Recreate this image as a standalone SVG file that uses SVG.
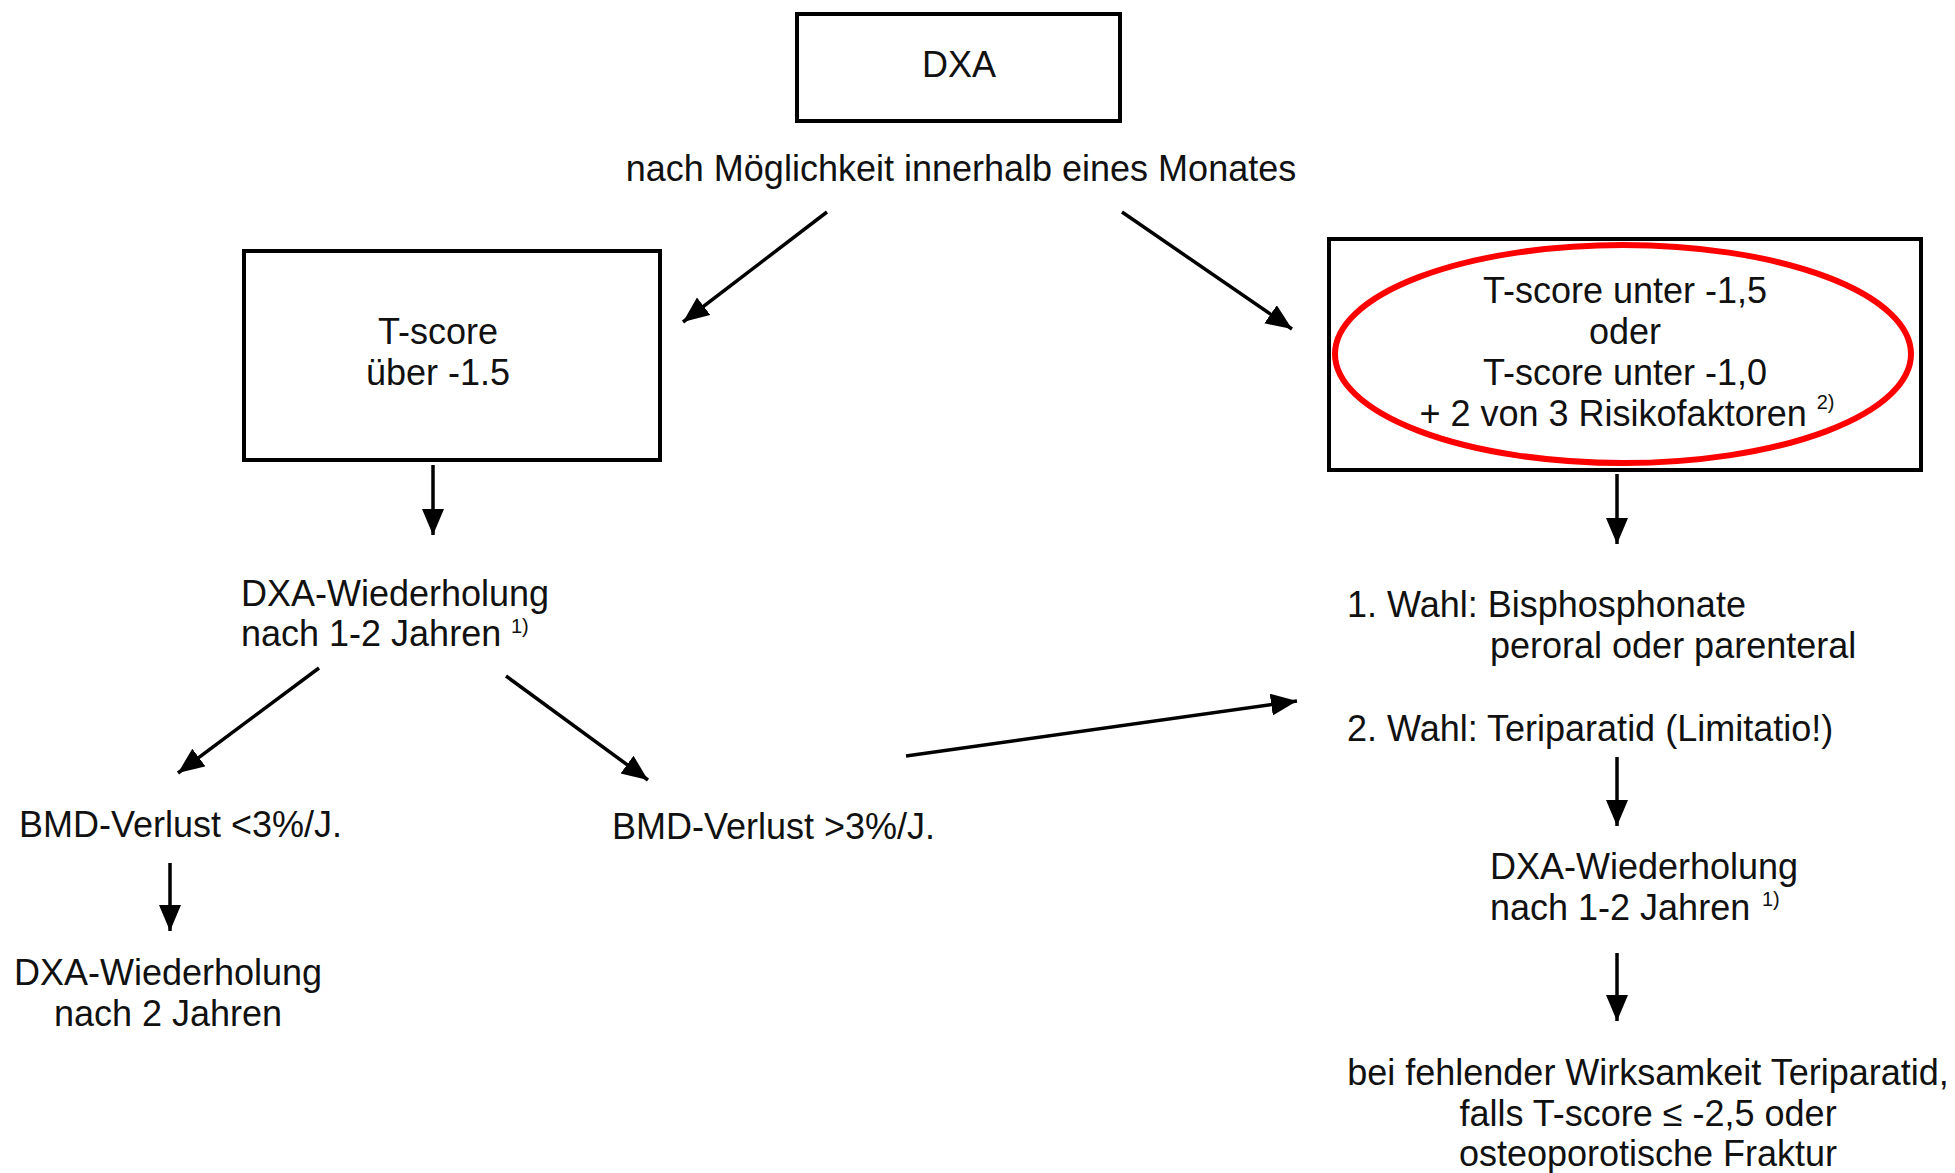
<svg xmlns="http://www.w3.org/2000/svg" width="1955" height="1173" viewBox="0 0 1955 1173">
<style>
text{font-family:"Liberation Sans",Arial,sans-serif;font-size:36px;fill:#111}
.c{text-anchor:middle}
.sup{font-size:20px}
.box{fill:#fff;stroke:#000;stroke-width:4}
.con line{stroke:#000;stroke-width:3.5}
</style>
<defs>
<marker id="ah" markerUnits="userSpaceOnUse" markerWidth="28" markerHeight="24" refX="26" refY="11" orient="auto">
<path d="M0,0 L26,11 L0,22 z" fill="#000"/>
</marker>
</defs>
<rect width="1955" height="1173" fill="#fff"/>
<g id="dxa">
<rect class="box" x="797" y="14" width="323" height="107"/>
<text class="c" x="959" y="77">DXA</text>
</g>
<g id="monat">
<text class="c" x="961" y="181">nach Möglichkeit innerhalb eines Monates</text>
</g>
<g id="tscore-ueber">
<rect class="box" x="244" y="251" width="416" height="209"/>
<text class="c" x="438" y="344">T-score</text>
<text class="c" x="438" y="385">über -1.5</text>
</g>
<g id="tscore-unter">
<rect class="box" x="1329" y="239" width="592" height="231"/>
<ellipse cx="1623" cy="354" rx="288" ry="109" fill="none" stroke="#ff0000" stroke-width="6"/>
<text class="c" x="1625" y="303">T-score unter -1,5</text>
<text class="c" x="1625" y="344">oder</text>
<text class="c" x="1625" y="385">T-score unter -1,0</text>
<text class="c" x="1627" y="426">+ 2 von 3 Risikofaktoren <tspan class="sup" dy="-17">2)</tspan></text>
</g>
<g id="dxa-wdh-left">
<text x="241" y="606">DXA-Wiederholung</text>
<text x="241" y="646">nach 1-2 Jahren</text>
<text class="sup" x="511" y="633">1)</text>
</g>
<g id="bmd-kleiner">
<text x="19" y="837">BMD-Verlust &lt;3%/J.</text>
</g>
<g id="bmd-groesser">
<text x="612" y="839">BMD-Verlust &gt;3%/J.</text>
</g>
<g id="dxa-wdh-2">
<text class="c" x="168" y="985">DXA-Wiederholung</text>
<text class="c" x="168" y="1026">nach 2 Jahren</text>
</g>
<g id="therapie">
<text x="1347" y="617">1. Wahl: Bisphosphonate</text>
<text x="1490" y="658">peroral oder parenteral</text>
<text x="1347" y="741">2. Wahl: Teriparatid (Limitatio!)</text>
</g>
<g id="dxa-wdh-right">
<text x="1490" y="879">DXA-Wiederholung</text>
<text x="1490" y="920">nach 1-2 Jahren</text>
<text class="sup" x="1762" y="906">1)</text>
</g>
<g id="fehlende-wirksamkeit">
<text class="c" x="1648" y="1085">bei fehlender Wirksamkeit Teriparatid,</text>
<text class="c" x="1648" y="1126">falls T-score ≤ -2,5 oder</text>
<text class="c" x="1648" y="1166">osteoporotische Fraktur</text>
</g>
<g id="connectors" class="con">
<line x1="827" y1="212" x2="683" y2="322" marker-end="url(#ah)"/>
<line x1="1122" y1="212" x2="1292" y2="329" marker-end="url(#ah)"/>
<line x1="433" y1="465" x2="433" y2="535" marker-end="url(#ah)"/>
<line x1="319" y1="668" x2="178" y2="773" marker-end="url(#ah)"/>
<line x1="506" y1="676" x2="648" y2="780" marker-end="url(#ah)"/>
<line x1="170" y1="863" x2="170" y2="931" marker-end="url(#ah)"/>
<line x1="906" y1="756" x2="1297" y2="701" marker-end="url(#ah)"/>
<line x1="1617" y1="474" x2="1617" y2="544" marker-end="url(#ah)"/>
<line x1="1617" y1="757" x2="1617" y2="826" marker-end="url(#ah)"/>
<line x1="1617" y1="953" x2="1617" y2="1021" marker-end="url(#ah)"/>
</g>
</svg>
